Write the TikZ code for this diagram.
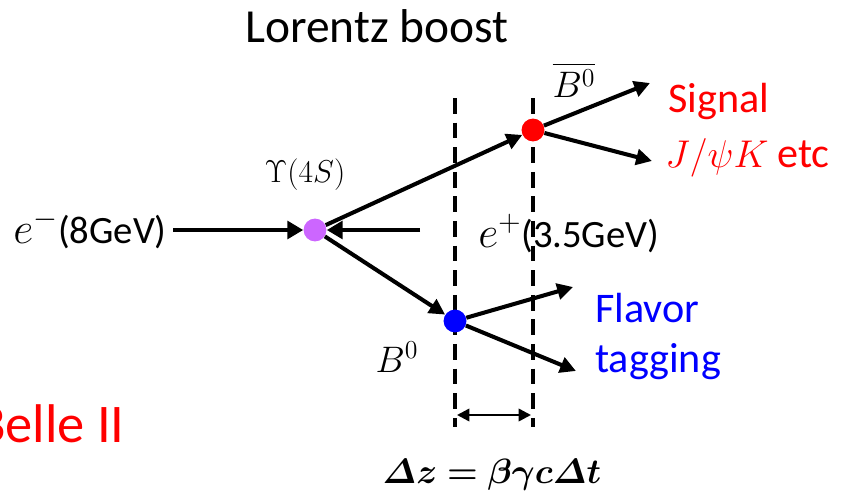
\RequirePackage{fix-cm}
\documentclass[tikz,border=0pt]{standalone}
\usepackage{amsmath}
\usepackage{amssymb}
\usepackage{bm}
\usepackage{xcolor}
\usepackage{fontspec}
\setmainfont{Carlito}
\usepackage{tikz}
\usetikzlibrary{arrows.meta}

\definecolor{upscol}{HTML}{CC66FF}

\begin{document}
\begin{tikzpicture}[x=0.02cm, y=-0.02cm,
    dot/.style={circle, inner sep=0pt, minimum size=13pt},
    track/.style={line width=2.3pt, -{Triangle[length=9pt, width=9pt]}},
    beam/.style={line width=2.6pt, -{Triangle[length=9pt, width=10pt]}},
    vline/.style={line width=2pt, dash pattern=on 9pt off 5pt},
    lbl/.style={font=\fontsize{22}{26}\selectfont, inner sep=0pt},
    side/.style={font=\fontsize{24}{28}\selectfont, inner sep=0pt, anchor=base west},
    mlbl/.style={font=\fontsize{21}{25}\selectfont, inner sep=0pt}]
    \useasboundingbox (0,0) rectangle (842,494);

    \node[font=\fontsize{27}{31}\selectfont, inner sep=0pt, anchor=base] (title) at (377,42) {Lorentz boost};

    % Dashed lines
    \coordinate (d1t) at (455,98);
    \coordinate (d1b) at (455,427);
    \coordinate (d2t) at (533,98);
    \coordinate (d2b) at (533,427);
    \draw[vline] (d1t) -- (d1b);
    \draw[vline] (d2t) -- (d2b);

    % Vertex dots
    \node[dot, fill=upscol] (ups) at (315,230) {};
    \node[dot, fill=red] (bbar) at (533,130) {};
    \node[dot, fill=blue] (bzero) at (455,321) {};

    % Beams
    \coordinate (em) at (173,230);
    \coordinate (ep) at (420,230);
    \draw[beam] (em) -- (ups);
    \draw[beam] (ep) -- (ups);
    \node[lbl, anchor=base east] (emlbl) at (167,243) {{\fontsize{25}{28}\selectfont$e^-$}(8GeV)};
    \node[lbl, anchor=base west] (eplbl) at (478,247) {{\fontsize{25}{28}\selectfont$e^+$}(3.5GeV)};
    \node[font=\fontsize{18}{22}\selectfont, inner sep=0pt, anchor=base] (upslbl) at (305,182) {$\Upsilon(4S)$};

    % B mesons
    \draw[track] (ups) -- (bbar);
    \draw[track] (ups) -- (bzero);
    \node[mlbl, anchor=base] (bbarlbl) at (574,97) {$\overline{B^0}$};
    \node[mlbl, anchor=base] (bzerolbl) at (397,372) {$B^0$};

    % Signal side
    \coordinate (sig1) at (650,83);
    \coordinate (sig2) at (652,161);
    \foreach \t in {sig1, sig2} {
        \draw[track] (bbar) -- (\t);
    }
    \node[side, red] (siglbl) at (668,112) {Signal};
    \node[lbl, red, anchor=base west] (jpsilbl) at (665,167) {$J/\psi K$ {\fontsize{24}{28}\selectfont etc}};

    % Tag side
    \coordinate (tag1) at (573,287);
    \coordinate (tag2) at (576,371);
    \foreach \t in {tag1, tag2} {
        \draw[track] (bzero) -- (\t);
    }
    \node[side, blue] (flvlbl) at (595,322) {Flavor};
    \node[side, blue] (taglbl) at (595,372) {tagging};

    % Flight length
    \coordinate (dz1) at (457,415);
    \coordinate (dz2) at (531,415);
    \draw[line width=1.4pt, {Triangle[length=7pt, width=7pt]}-{Triangle[length=7pt, width=7pt]}] (dz1) -- (dz2);
    \node[font=\fontsize{20}{24}\selectfont, inner sep=0pt, anchor=base] (dzlbl) at (492,483) {$\boldsymbol{\varDelta z = \beta\gamma c\varDelta t}$};

    \node[font=\fontsize{31}{36}\selectfont, red, inner sep=0pt, anchor=base east] (belle) at (125,442) {Belle II};
\end{tikzpicture}
\end{document}
